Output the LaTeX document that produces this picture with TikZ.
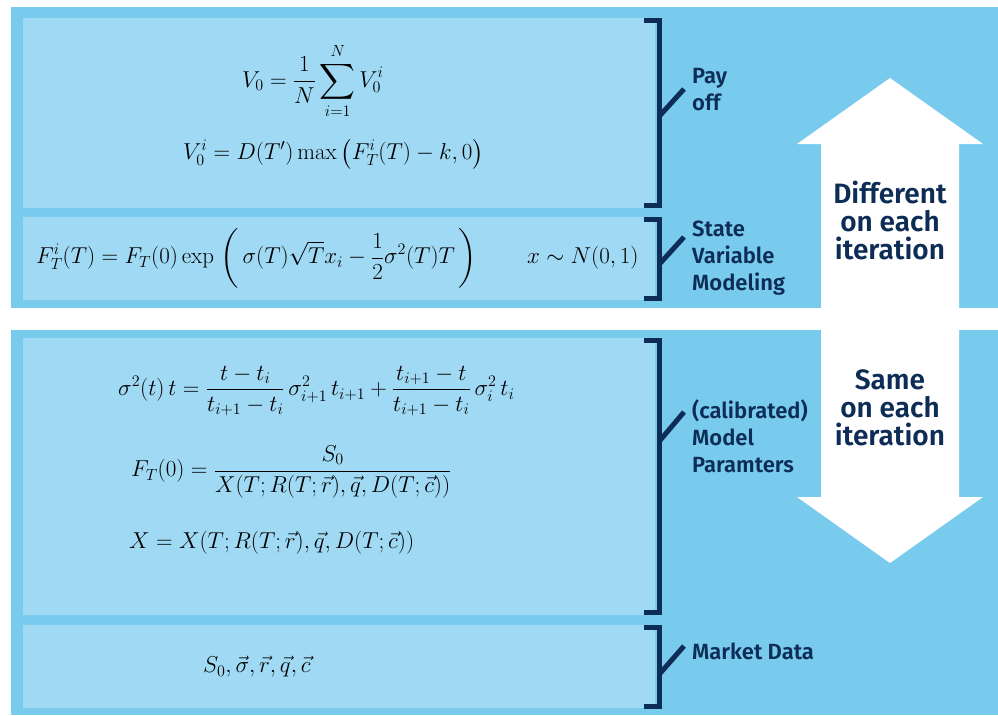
\RequirePackage{fix-cm}
\documentclass[tikz,border=0pt]{standalone}
\usepackage{amsmath}
\usepackage{fontspec}
\newfontfamily\labelfont{Fira Sans}[UprightFont=* Medium,BoldFont=* SemiBold]
\definecolor{outerblue}{HTML}{79CBEE}
\definecolor{innerblue}{HTML}{A0D9F3}
\definecolor{navy}{HTML}{0D2D57}
\begin{document}
\begin{tikzpicture}[x=1pt,y=-1pt,
  panel/.style={fill=outerblue,draw=none},
  inbox/.style={fill=innerblue,draw=none},
  brack/.style={draw=navy,line width=5pt,miter limit=10},
  tick/.style={draw=navy,line width=5pt},
  eq/.style={inner sep=0pt,anchor=west,font=\fontsize{23}{27}\selectfont},
  lab/.style={inner sep=0pt,anchor=west,align=left,text=navy,font=\labelfont\bfseries\fontsize{22}{27}\selectfont},
  big/.style={inner sep=0pt,align=center,text=navy,font=\labelfont\bfseries\fontsize{28}{28}\selectfont}]
\useasboundingbox[fill=white] (0,0) rectangle (998,715);
% panels
\path[panel] (11,7) rectangle (998,308);
\path[panel] (11,330) rectangle (998,715);
% inner boxes
\path[inbox] (23,18) rectangle (655,208);
\path[inbox] (23,217) rectangle (655,300);
\path[inbox] (23,338) rectangle (655,615);
\path[inbox] (23,625) rectangle (655,708);
% double arrow
\path[fill=white] (890,78) -- (983,144) -- (959,144) -- (959,497) -- (983,497)
  -- (890,563) -- (797,497) -- (821,497) -- (821,144) -- (797,144) -- cycle;
% brackets
\draw[brack] (644,20.5) -- (659.5,20.5) -- (659.5,205.5) -- (644,205.5);
\draw[brack] (644,219.5) -- (659.5,219.5) -- (659.5,298.5) -- (644,298.5);
\draw[brack] (644,340.5) -- (659.5,340.5) -- (659.5,612.5) -- (644,612.5);
\draw[brack] (644,627.5) -- (659.5,627.5) -- (659.5,706) -- (644,706);
% ticks
\coordinate (t1a) at (659.5,116); \coordinate (t1b) at (684,89);
\coordinate (t2a) at (659.5,264); \coordinate (t2b) at (684,237);
\coordinate (t3a) at (659.5,441); \coordinate (t3b) at (684,412);
\coordinate (t4a) at (659.5,674); \coordinate (t4b) at (684,646);
\draw[tick] (t1a) -- (t1b);
\draw[tick] (t2a) -- (t2b);
\draw[tick] (t3a) -- (t3b);
\draw[tick] (t4a) -- (t4b);
% labels
\node[lab] (l1) at (692,90) {Pay\\off};
\node[lab] (l2) at (692,258) {State\\Variable\\Modeling};
\node[lab] (l3) at (692,436) {(calibrated)\\Model\\Paramters};
\node[lab] (l4) at (692,651) {Market Data};
\node[big] (b1) at (890,220) {Different\\on each\\iteration};
\node[big] (b2) at (890,408) {Same\\on each\\iteration};
% equations
\node[eq] (e1) at (242,81) {$\displaystyle V_0=\frac{1}{N}\sum_{i=1}^{N}V_0^i$};
\node[eq] (e2) at (183,154) {$\displaystyle V_0^i=D(T')\max\left(F_T^i(T)-k,0\right)$};
\node[eq] (e3) at (36,258) {$\displaystyle F_T^i(T)=F_T(0)\exp\;\biggl(\,\sigma(T)\sqrt{T}x_i-\frac{1}{2}\sigma^2(T)T\,\biggr)$};
\node[eq] (e4) at (527,258) {$x\sim N(0,1)$};
\node[eq] (e5) at (118,391) {$\displaystyle \sigma^2(t)\,t=\frac{t-t_i}{t_{i+1}-t_i}\,\sigma_{i+1}^2\,t_{i+1}+\frac{t_{i+1}-t}{t_{i+1}-t_i}\,\sigma_i^2\,t_i$};
\node[eq] (e6) at (131,472) {$\displaystyle F_T(0)=\frac{S_0}{X(T;R(T;\vec{r}),\vec{q},D(T;\vec{c}))}$};
\node[eq] (e7) at (129,543) {$X=X(T;R(T;\vec{r}),\vec{q},D(T;\vec{c}))$};
\node[eq] (e8) at (203,667) {$S_0,\vec{\sigma},\vec{r},\vec{q},\vec{c}$};
\end{tikzpicture}
\end{document}
